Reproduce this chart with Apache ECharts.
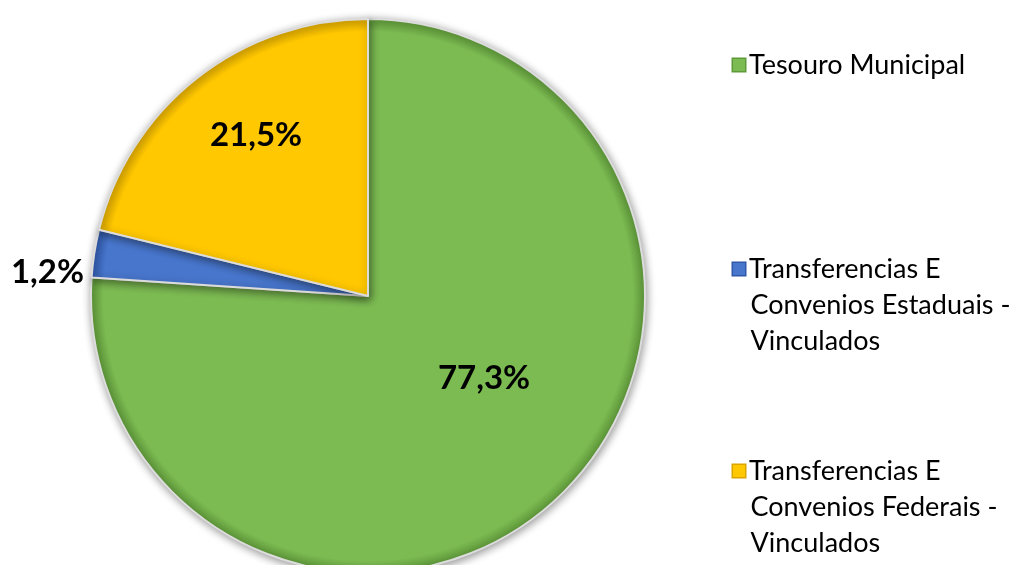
<!DOCTYPE html>
<html>
<head>
<meta charset="utf-8">
<script src="https://cdn.jsdelivr.net/npm/echarts@6/dist/echarts.min.js"></script>
<style>
    html, body { margin: 0; padding: 0; background: #fff; }
    #chart { width: 1015px; height: 565px; }
</style>
</head>
<body>
<div id="chart"></div>
<script>
    // dados do gráfico
    const categorias = [
        'Tesouro Municipal',
        'Transferencias E\nConvenios Estaduais -\nVinculados',
        'Transferencias E\nConvenios Federais -\nVinculados'
    ];
    const percentuais = [77.3, 1.2, 21.5];
    const cores = ['#7cba52', '#4876cc', '#ffc800'];
    const coresBorda = ['#5f9a3a', '#2f58a8', '#d9a600'];

    const cx = 368, cy = 296, raio = 277;

    function gradiente(i) {
        return {
            type: 'radial', x: cx, y: cy, r: raio, global: true,
            colorStops: [
                { offset: 0, color: cores[i] },
                { offset: 0.955, color: cores[i] },
                { offset: 1, color: coresBorda[i] }
            ]
        };
    }

    const dados = categorias.map((nome, i) => ({
        name: nome,
        value: percentuais[i],
        itemStyle: { color: gradiente(i) }
    }));

    // posição dos rótulos (como no original)
    const posRotulos = [
        { x: 484, y: 378, align: 'center' },
        { x: 84, y: 272, align: 'right' },
        { x: 256, y: 135, align: 'center' }
    ];

    // legenda: o ícone vai dentro do texto, alinhado à primeira linha
    function legenda(i, topo) {
        return {
            orient: 'vertical',
            left: 727,
            top: topo,
            padding: 0,
            itemWidth: 0,
            itemHeight: 0,
            selectedMode: false,
            formatter: nome => {
                const linhas = nome.split('\n');
                return '{ic|}{sp|}' + linhas[0] +
                    linhas.slice(1).map(l => '\n{in|}' + l).join('');
            },
            textStyle: {
                fontFamily: 'Lato',
                fontSize: 27,
                lineHeight: 36,
                color: '#000',
                rich: {
                    ic: {
                        width: 12, height: 12,
                        backgroundColor: cores[i],
                        borderColor: coresBorda[i],
                        borderWidth: 1.5,
                        verticalAlign: 'middle'
                    },
                    sp: { width: 4 },
                    in: { width: 17.5 }
                }
            },
            data: [categorias[i]]
        };
    }

    const chart = echarts.init(document.getElementById('chart'));
    chart.setOption({
        backgroundColor: '#fff',
        animation: false,
        legend: [
            legenda(0, 47),
            legenda(1, 251),
            legenda(2, 453)
        ],
        series: [{
            type: 'pie',
            center: [cx, cy],
            radius: raio,
            startAngle: 90,
            clockwise: true,
            minAngle: 10,
            avoidLabelOverlap: false,
            itemStyle: {
                borderColor: '#dcdcdc',
                borderWidth: 2,
                shadowBlur: 8,
                shadowColor: 'rgba(0,0,0,0.4)',
                shadowOffsetX: 1,
                shadowOffsetY: 2
            },
            label: {
                show: true,
                position: 'inside',
                formatter: p => p.value.toFixed(1).replace('.', ',') + '%',
                fontFamily: 'Lato',
                fontWeight: 'bold',
                fontSize: 33,
                color: '#000'
            },
            labelLine: { show: false },
            labelLayout: p => Object.assign({ verticalAlign: 'middle' }, posRotulos[p.dataIndex]),
            emphasis: { disabled: true },
            data: dados
        }]
    });
</script>
</body>
</html>
